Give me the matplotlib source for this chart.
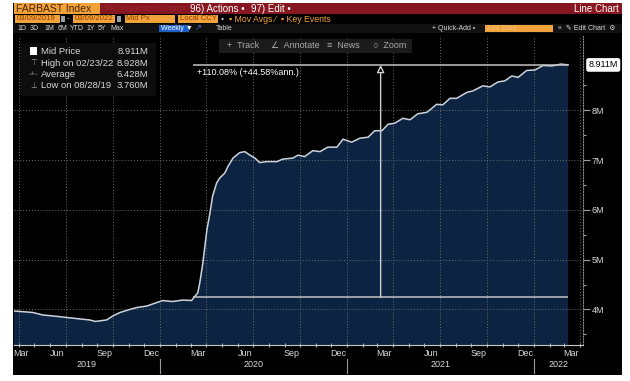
import matplotlib
matplotlib.use("Agg")
import matplotlib.pyplot as plt
import matplotlib.dates as mdates
from matplotlib.patches import Rectangle
import pandas as pd

# weekly mid price of FARBAST Index (millions)
dates = [
    "2019-03-08", "2019-03-22", "2019-04-03", "2019-04-28", "2019-05-17", "2019-06-06",
    "2019-07-03", "2019-07-29", "2019-08-17", "2019-08-28", "2019-09-19", "2019-10-01",
    "2019-10-15", "2019-11-03", "2019-11-17", "2019-12-07", "2019-12-26", "2020-01-07",
    "2020-01-26", "2020-02-15", "2020-03-03", "2020-03-09", "2020-03-15", "2020-03-19",
    "2020-03-25", "2020-04-02", "2020-04-08", "2020-04-13", "2020-04-21", "2020-04-27",
    "2020-05-07", "2020-05-13", "2020-05-23", "2020-06-05", "2020-06-15", "2020-06-25",
    "2020-07-05", "2020-07-14", "2020-07-28", "2020-08-17", "2020-08-28", "2020-09-17",
    "2020-09-27", "2020-10-10", "2020-10-26", "2020-11-09", "2020-11-24", "2020-12-12",
    "2020-12-24", "2021-01-10", "2021-01-26", "2021-02-11", "2021-02-24", "2021-03-10",
    "2021-03-22", "2021-04-04", "2021-04-20", "2021-05-04", "2021-05-19", "2021-06-06",
    "2021-06-25", "2021-07-07", "2021-07-21", "2021-08-03", "2021-08-23", "2021-09-04",
    "2021-09-23", "2021-10-07", "2021-10-23", "2021-11-05", "2021-11-19", "2021-12-01",
    "2021-12-18", "2022-01-03", "2022-01-19", "2022-02-05", "2022-02-23", "2022-03-09",
]
mid_px = [
    3.98, 3.97, 3.96, 3.94, 3.89, 3.87,
    3.84, 3.81, 3.79, 3.76, 3.79, 3.87,
    3.94, 4.00, 4.04, 4.07, 4.14, 4.18,
    4.16, 4.19, 4.18, 4.26, 4.33, 4.53,
    4.93, 5.60, 5.94, 6.27, 6.54, 6.64,
    6.74, 6.87, 7.04, 7.15, 7.17, 7.10,
    7.04, 6.95, 6.97, 6.97, 7.02, 7.04,
    7.10, 7.07, 7.19, 7.17, 7.26, 7.26,
    7.42, 7.36, 7.44, 7.46, 7.59, 7.59,
    7.72, 7.74, 7.84, 7.81, 7.93, 7.96,
    8.12, 8.11, 8.24, 8.24, 8.36, 8.39,
    8.49, 8.47, 8.57, 8.59, 8.69, 8.66,
    8.80, 8.81, 8.90, 8.89, 8.928, 8.911,
]

legend_rows = [
    ("Mid Price", "8.911M"),
    ("High on 02/23/22", "8.928M"),
    ("Average", "6.428M"),
    ("Low on 08/28/19", "3.760M"),
]
legend_icons = ["", "\u22a4", "-+-", "\u22a5"]

meas_start, meas_end = "2020-03-06", "2022-03-09"
meas_lo, meas_hi = 4.242, 8.911
meas_text = "+110.08% (+44.58%ann.)"
last_value = 8.911

W, H = 630, 381
ORANGE = "#f2a23a"
RED = "#86161f"
NAVY = "#0c2341"
LINE = "#cdd3da"
GRID = "#6d6d6d"
TXT = "#d8d8d8"


def fig_box(fig, x0, y0, x1, y1, color, z=1):
    fig.add_artist(Rectangle((x0 / W, 1 - y1 / H), (x1 - x0) / W, (y1 - y0) / H,
                             transform=fig.transFigure, facecolor=color,
                             edgecolor="none", zorder=z))


def fig_label(fig, x, y, s, color=TXT, size=6, ha="left", **kw):
    fig.text(x / W, 1 - y / H, s, color=color, fontsize=size, ha=ha, va="center",
             zorder=5, **kw)


def draw_header(fig):
    # screenshot frame
    fig_box(fig, 13, 3, 622, 375, "black", z=-1)
    # row 1
    fig_box(fig, 14, 3, 100, 14, ORANGE)
    fig_box(fig, 100, 3, 622, 14, RED)
    fig_label(fig, 16, 8.5, "FARBAST Index", color="#4a2300", size=7.5)
    fig_label(fig, 104, 8.5, "94) Suggested Charts", color="#9c2731", size=6)
    fig_label(fig, 190, 8.5, "96) Actions \u2022", color="white", size=7)
    fig_label(fig, 251, 8.5, "97) Edit \u2022", color="white", size=7)
    fig_label(fig, 619, 8.5, "Line Chart", color="white", size=7, ha="right")
    # row 2
    for x0, x1, s in [(15, 60, "03/09/2019"), (73, 115, "03/09/2022"),
                      (125, 175, "Mid Px"), (178, 218, "Local CCY")]:
        fig_box(fig, x0, 15, x1, 23, ORANGE)
        fig_label(fig, x0 + 1.5, 19, s, color="#8a3b00", size=5.6)
    fig_box(fig, 61, 16, 65, 22, "#9aa0a8")
    fig_box(fig, 117, 16, 121, 22, "#9aa0a8")
    fig_label(fig, 67, 19, "-", color=TXT, size=6)
    fig_label(fig, 221, 19, "\u2022", color=TXT, size=6)
    fig_label(fig, 229, 19, "\u25aa Mov Avgs \u2215  \u25aa Key Events", color=ORANGE, size=6.3)
    # row 3
    fig_box(fig, 13, 24, 622, 33, "#111111")
    for x, s in [(17, "1D"), (30, "3D"), (44, "1M"), (58, "6M"), (70, "YTD"),
                 (86, "1Y"), (98, "5Y"), (110, "Max")]:
        fig_label(fig, x, 28.5, s, color=TXT, size=5)
    fig_box(fig, 159, 25, 189, 32, "#1d5fc4")
    fig_label(fig, 161, 28.5, "Weekly \u25bc", color="white", size=5)
    fig_label(fig, 195, 28.5, "\u2197", color="#3a7be0", size=6)
    fig_label(fig, 216, 28.5, "Table", color=TXT, size=5)
    fig_label(fig, 432, 28.5, "+ Quick-Add \u2022", color=TXT, size=5)
    fig_box(fig, 485, 25, 553, 32, ORANGE)
    fig_label(fig, 487, 28.5, "Add Data", color="#f6c27a", size=5)
    fig_label(fig, 558, 28.5, "\u00ab  \u270e Edit Chart  \u2699", color=TXT, size=5)
    # toolbar
    fig_box(fig, 219, 39, 412, 53, "#1b1b1b", z=2)
    for x, s in [(227, "+  Track"), (271, "\u2220  Annotate"), (327, "\u2261  News"),
                 (373, "\u25cb  Zoom")]:
        fig_label(fig, x, 46, s, color="#a9a9a9", size=6.5)


def draw_legend(fig):
    fig_box(fig, 20, 43, 156, 96, "#0d0d0d", z=2)
    fig_box(fig, 30, 47, 37, 55, "white", z=3)
    ys = [51, 63, 74.5, 86]
    for (name, val), icon, y in zip(legend_rows, legend_icons, ys):
        if icon:
            fig_label(fig, 33.5, y, icon, color="#9a9a9a", size=5.5, ha="center")
        fig_label(fig, 41, y, name, color=TXT, size=6.8)
        fig_label(fig, 148, y, val, color=TXT, size=6.8, ha="right")


def main():
    plt.rcParams["font.family"] = ["Liberation Sans", "DejaVu Sans"]
    x = pd.to_datetime(dates)

    fig = plt.figure(figsize=(W / 100, H / 100), dpi=100, facecolor="white")
    ax = fig.add_axes([14 / W, 1 - 345 / H, (583 - 14) / W, (345 - 36) / H])
    ax.set_facecolor("black")

    x0, x1 = pd.Timestamp("2019-03-22"), pd.Timestamp("2022-04-07")
    ax.set_xlim(x0, x1)
    ax.set_ylim(3.287, 9.492)

    ax.fill_between(x, mid_px, 0, color=NAVY, zorder=1, linewidth=0)
    ax.plot(x, mid_px, color=LINE, lw=1.1, zorder=3)

    # grid
    for d in pd.date_range("2019-04-01", "2022-04-01", freq="QS"):
        ax.axvline(d, color=GRID, lw=0.7, ls=(0, (1, 2)), zorder=2)
    for v in range(4, 9):
        ax.axhline(v, color=GRID, lw=0.7, ls=(0, (1, 2)), zorder=2)

    # measurement
    ms, me = pd.Timestamp(meas_start), pd.Timestamp(meas_end)
    ax.hlines([meas_lo, meas_hi], ms, me, color="#c4c4c4", lw=1.1, zorder=4)
    mid = ms + (me - ms) / 2
    ax.annotate("", xy=(mid, meas_hi), xytext=(mid, meas_lo),
                arrowprops=dict(arrowstyle="-|>", fc="black", ec="#d0d0d0", lw=1.0,
                                mutation_scale=11, shrinkA=0, shrinkB=0), zorder=4)
    ax.text(ms + pd.Timedelta(days=8), meas_hi - 0.06, meas_text, color="white",
            fontsize=6.5, va="top", ha="left", zorder=5)

    # right axis
    ax.yaxis.tick_right()
    ax.set_yticks(range(4, 9))
    ax.set_yticklabels([f"{v}M" for v in range(4, 9)])
    ax.set_yticks([3.5, 4.5, 5.5, 6.5, 7.5, 8.5], minor=True)
    ax.tick_params(axis="y", which="major", colors="#a0a0a0", labelcolor=TXT,
                   labelsize=6.5, length=5, width=0.8, pad=1)
    ax.tick_params(axis="y", which="minor", colors="#a0a0a0", length=2.5, width=0.8)
    ax.annotate(f"{last_value:.3f}M", xy=(1, last_value), xycoords=("axes fraction", "data"),
                xytext=(4, 0), textcoords="offset points", fontsize=6.5, color="black",
                va="center", ha="left", annotation_clip=False,
                bbox=dict(boxstyle="round,pad=0.18", fc="white", ec="white"))

    # bottom axis: monthly ticks, labels at mid-month
    ax.xaxis.set_major_locator(mdates.MonthLocator())
    ax.xaxis.set_major_formatter(plt.NullFormatter())
    ax.tick_params(axis="x", which="major", colors="#b0b0b0", length=2.5, width=0.8,
                   direction="inout")
    for d in pd.date_range("2019-03-01", "2022-03-01", freq="3MS"):
        pos = max(d + pd.Timedelta(days=14), x0 + pd.Timedelta(days=14))
        ax.text(pos, -0.028, d.strftime("%b"), transform=ax.get_xaxis_transform(),
                color=TXT, fontsize=6.5, ha="center", va="center", clip_on=False)
    bounds = [x0] + list(pd.date_range("2020-01-01", "2022-01-01", freq="YS")) + [x1]
    for i, year in enumerate(range(2019, 2023)):
        c = bounds[i] + (bounds[i + 1] - bounds[i]) / 2
        ax.text(c, -0.062, str(year), transform=ax.get_xaxis_transform(),
                color=TXT, fontsize=6.5, ha="center", va="center", clip_on=False)
        if i > 0:
            ax.plot([bounds[i], bounds[i]], [-0.045, -0.09], transform=ax.get_xaxis_transform(),
                    color="#9a9a9a", lw=0.8, clip_on=False)

    for side in ["top", "left"]:
        ax.spines[side].set_visible(False)
    ax.spines["bottom"].set_color("#c8c8c8")
    ax.spines["right"].set_color("#8a8a8a")
    ax.spines["right"].set_linestyle((0, (1, 1.5)))

    draw_header(fig)
    draw_legend(fig)

    fig.savefig("out.png", dpi=100, facecolor="white")


if __name__ == "__main__":
    main()
